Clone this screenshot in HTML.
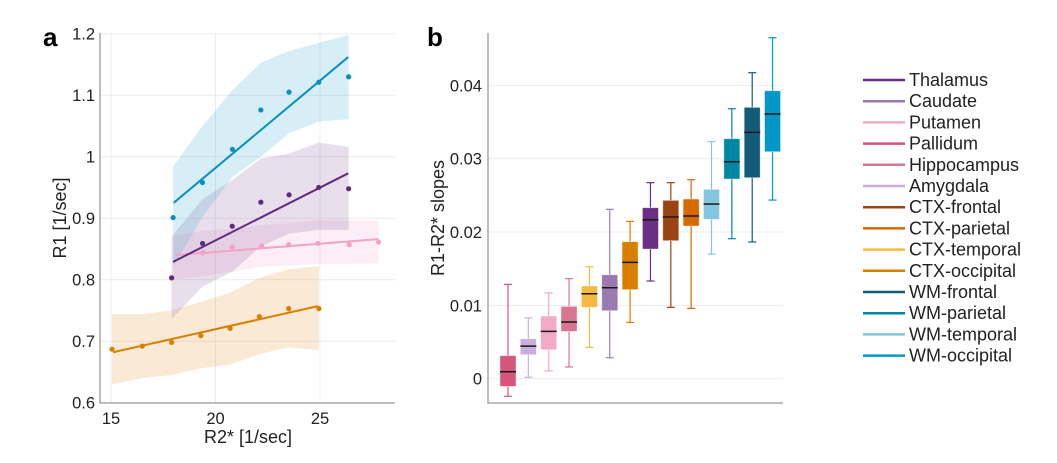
<!DOCTYPE html>
<html><head><meta charset="utf-8">
<style>
body{margin:0;background:#fff;}
svg{display:block;font-family:"Liberation Sans","DejaVu Sans",sans-serif;}
</style></head>
<body>
<svg id="fig" width="1057" height="463" viewBox="0 0 1057 463">
<g id="pa"></g>
<g id="pb"></g>
<g id="lg"></g>
</svg>
<script>
// ---------- Panel a data ----------
const aXTicks = [15, 20, 25];
const aYTicks = [0.6, 0.7, 0.8, 0.9, 1.0, 1.1, 1.2];
const aYTickLabels = ["0.6", "0.7", "0.8", "0.9", "1", "1.1", "1.2"];
// WM (blue)
const wmX = [17.97, 19.38, 20.81, 22.17, 23.52, 24.94, 26.37];
const wmY = [0.901, 0.958, 1.012, 1.076, 1.105, 1.121, 1.130];
const wmUp = [0.984, 1.05, 1.108, 1.153, 1.172, 1.185, 1.198];
const wmLo = [0.821, 0.902, 0.967, 1.0, 1.038, 1.057, 1.061];
const wmFit = [[18.0, 0.925], [26.35, 1.162]];
// Thalamus (purple)
const thX = [17.9, 19.38, 20.8, 22.17, 23.52, 24.94, 26.37];
const thY = [0.803, 0.859, 0.887, 0.926, 0.938, 0.950, 0.948];
const thUp = [0.870, 0.931, 0.962, 0.997, 1.005, 1.023, 1.016];
const thLo = [0.736, 0.789, 0.813, 0.854, 0.875, 0.881, 0.881];
const thFit = [[17.97, 0.829], [26.35, 0.973]];
// Putamen (pink)
const puX = [19.4, 20.8, 22.2, 23.5, 24.9, 26.4, 27.8];
const puY = [0.844, 0.853, 0.855, 0.857, 0.859, 0.857, 0.861];
const puBandX = [18.0, 19.4, 20.8, 22.2, 23.5, 24.9, 26.4, 27.8];
const puUp = [0.871, 0.880, 0.883, 0.889, 0.892, 0.897, 0.896, 0.896];
const puLo = [0.800, 0.806, 0.813, 0.821, 0.823, 0.825, 0.826, 0.827];
const puFit = [[18.08, 0.840], [27.8, 0.866]];
// CTX (orange)
const cxX = [15.05, 16.5, 17.9, 19.3, 20.7, 22.1, 23.5, 24.95];
const cxY = [0.687, 0.692, 0.698, 0.709, 0.721, 0.740, 0.753, 0.753];
const cxUp = [0.744, 0.744, 0.750, 0.764, 0.779, 0.803, 0.817, 0.822];
const cxLo = [0.630, 0.640, 0.645, 0.656, 0.662, 0.679, 0.690, 0.685];
const cxFit = [[15.1, 0.682], [24.9, 0.757]];

// ---------- Panel b data ----------
const bNames = ["Pallidum","Amygdala","Putamen","Hippocampus","CTX-temporal","Caudate","CTX-occipital","Thalamus","CTX-frontal","CTX-parietal","WM-temporal","WM-parietal","WM-frontal","WM-occipital"];
const bLow = [-0.0024,0.0002,0.00105,0.0016,0.00427,0.00286,0.00768,0.01332,0.00973,0.00959,0.017,0.01909,0.01864,0.02436];
const bQ1 = [-0.00105,0.00327,0.00395,0.00645,0.00973,0.00927,0.01214,0.01768,0.01882,0.02082,0.02173,0.02723,0.02741,0.03095];
const bMed = [0.00095,0.00445,0.00645,0.00773,0.01159,0.0124,0.01586,0.02168,0.02205,0.02218,0.02382,0.02959,0.03359,0.03609];
const bQ3 = [0.00314,0.00545,0.00855,0.00986,0.01264,0.01418,0.01868,0.02332,0.02432,0.0245,0.02582,0.03273,0.037,0.03927];
const bHigh = [0.01286,0.0083,0.0117,0.01364,0.01527,0.0231,0.02145,0.02673,0.02673,0.02714,0.03232,0.03682,0.04173,0.0465];
const bYTicks = [0, 0.01, 0.02, 0.03, 0.04];
const bYTickLabels = ["0", "0.01", "0.02", "0.03", "0.04"];

const legendNames = ["Thalamus","Caudate","Putamen","Pallidum","Hippocampus","Amygdala","CTX-frontal","CTX-parietal","CTX-temporal","CTX-occipital","WM-frontal","WM-parietal","WM-temporal","WM-occipital"];
const colors = {"Thalamus":"#6a2e87","Caudate":"#9b79b1","Putamen":"#f2aac6","Pallidum":"#d6557a","Hippocampus":"#d97590","Amygdala":"#c9aede","CTX-frontal":"#9a4414","CTX-parietal":"#d66a00","CTX-temporal":"#f5bb41","CTX-occipital":"#d97f00","WM-frontal":"#125c77","WM-parietal":"#0088a3","WM-temporal":"#84c6de","WM-occipital":"#0596c8"};

const NS = "http://www.w3.org/2000/svg";
function mk(parent, tag, attrs, text){
  const e = document.createElementNS(NS, tag);
  for (const k in attrs) e.setAttribute(k, attrs[k]);
  if (text !== undefined) e.textContent = text;
  parent.appendChild(e);
  return e;
}
const TICK = 16.5, TITLE = 18;

// ---------- Panel a ----------
const pa = document.getElementById('pa');
const ax = v => 111 + (v - 15) * 20.9;
const ay = v => 33.7 + (1.2 - v) * 615;
const aL = 100, aR = 395, aT = 33, aB = 403;
for (let i = 0; i < aYTicks.length; i++) {
  const y = ay(aYTicks[i]);
  const g = mk(pa, 'line', {x1: aL, x2: aR, y1: y, y2: y, stroke: '#ececec', 'stroke-width': 1});
  
  
  const t = mk(pa, 'text', {x: aL - 5, y: y + 6, 'text-anchor': 'end', 'font-size': TICK, fill: '#222'}, aYTickLabels[i]);
  
  
}
for (let i = 0; i < aXTicks.length; i++) {
  const x = ax(aXTicks[i]);
  const g = mk(pa, 'line', {x1: x, x2: x, y1: aT, y2: aB, stroke: '#ececec', 'stroke-width': 1});
  
  
  const t = mk(pa, 'text', {x: x, y: aB + 21, 'text-anchor': 'middle', 'font-size': TICK, fill: '#222'}, String(aXTicks[i]));
  
  
}
function band(xs, up, lo, color, name){
  let d = 'M' + xs.map((x, i) => ax(x) + ',' + ay(up[i])).join('L');
  d += 'L' + xs.slice().reverse().map((x, i) => ax(x) + ',' + ay(lo[lo.length - 1 - i])).join('L') + 'Z';
  const p = mk(pa, 'path', {d: d, fill: color, 'fill-opacity': 0.2, stroke: 'none'});
  
  
}
function series(xs, ys, fit, color, name){
  const l = mk(pa, 'line', {x1: ax(fit[0][0]), y1: ay(fit[0][1]), x2: ax(fit[1][0]), y2: ay(fit[1][1]), stroke: color, 'stroke-width': 2});
  
  
  for (let i = 0; i < xs.length; i++) {
    const c = mk(pa, 'circle', {cx: ax(xs[i]), cy: ay(ys[i]), r: 2.6, fill: color});
    
    
  }
}
band(cxX, cxUp, cxLo, '#e8962e', 'ctx');
band(puBandX, puUp, puLo, '#f2aac6', 'putamen');
band(thX, thUp, thLo, '#8a5c9e', 'thalamus');
band(wmX, wmUp, wmLo, '#3aa9d4', 'wm');
series(cxX, cxY, cxFit, '#d97f00', 'ctx');
series(puX, puY, puFit, '#f2a2c2', 'putamen');
series(thX, thY, thFit, '#5e2a7e', 'thalamus');
series(wmX, wmY, wmFit, '#0591c2', 'wm');
let e;
e = mk(pa, 'path', {d: `M${aL},${aT}V${aB}H${aR}`, fill: 'none', stroke: '#9a9a9a', 'stroke-width': 1.3});
 
e = mk(pa, 'text', {x: 248, y: 443, 'text-anchor': 'middle', 'font-size': TITLE, fill: '#222'}, 'R2* [1/sec]');
 
e = mk(pa, 'text', {x: 0, y: 0, transform: 'translate(66,218) rotate(-90)', 'text-anchor': 'middle', 'font-size': TITLE, fill: '#222'}, 'R1 [1/sec]');
 
e = mk(pa, 'text', {x: 43, y: 46, 'font-size': 26, 'font-weight': 'bold', fill: '#000'}, 'a');
 

// ---------- Panel b ----------
const pb = document.getElementById('pb');
const by = v => 378.7 - v * 7333;
const bx = i => 508 + i * 20.35;
const bL = 488, bR = 783, bT = 33, bB = 403;
for (let i = 0; i < bYTicks.length; i++) {
  const y = by(bYTicks[i]);
  const g = mk(pb, 'line', {x1: bL, x2: bR, y1: y, y2: y, stroke: '#ececec', 'stroke-width': 1});
  
  
  const t = mk(pb, 'text', {x: bL - 6, y: y + 6, 'text-anchor': 'end', 'font-size': TICK, fill: '#222'}, bYTickLabels[i]);
  
  
}
for (let i = 0; i < bNames.length; i++) {
  const c = colors[bNames[i]], x = bx(i), w = 16;
  const g = mk(pb, 'g', {});
  
  
  mk(g, 'line', {x1: x, x2: x, y1: by(bHigh[i]), y2: by(bQ3[i]), stroke: c, 'stroke-width': 1.2});
  mk(g, 'line', {x1: x, x2: x, y1: by(bQ1[i]), y2: by(bLow[i]), stroke: c, 'stroke-width': 1.2});
  mk(g, 'line', {x1: x - 4, x2: x + 4, y1: by(bHigh[i]), y2: by(bHigh[i]), stroke: c, 'stroke-width': 1.2});
  mk(g, 'line', {x1: x - 4, x2: x + 4, y1: by(bLow[i]), y2: by(bLow[i]), stroke: c, 'stroke-width': 1.2});
  mk(g, 'rect', {x: x - w / 2, y: by(bQ3[i]), width: w, height: by(bQ1[i]) - by(bQ3[i]), fill: c, stroke: '#fff', 'stroke-opacity': 0.5, 'stroke-width': 0.8});
  mk(g, 'line', {x1: x - w / 2, x2: x + w / 2, y1: by(bMed[i]), y2: by(bMed[i]), stroke: '#1a1a1a', 'stroke-width': 1.5});
}
e = mk(pb, 'path', {d: `M${bL},${bT}V${bB}H${bR}`, fill: 'none', stroke: '#9a9a9a', 'stroke-width': 1.3});
 
e = mk(pb, 'text', {x: 0, y: 0, transform: 'translate(444,218) rotate(-90)', 'text-anchor': 'middle', 'font-size': TITLE, fill: '#222'}, 'R1-R2* slopes');
 
e = mk(pb, 'text', {x: 427, y: 46, 'font-size': 26, 'font-weight': 'bold', fill: '#000'}, 'b');
 

// ---------- Legend ----------
const lg = document.getElementById('lg');
for (let i = 0; i < legendNames.length; i++) {
  const y = 80 + i * 21.2;
  const g = mk(lg, 'g', {});
  
  
  mk(g, 'line', {x1: 863, x2: 905, y1: y, y2: y, stroke: colors[legendNames[i]], 'stroke-width': 2.5});
  mk(g, 'text', {x: 909, y: y + 6, 'font-size': 18, fill: '#222'}, legendNames[i]);
}
</script>
</body></html>
